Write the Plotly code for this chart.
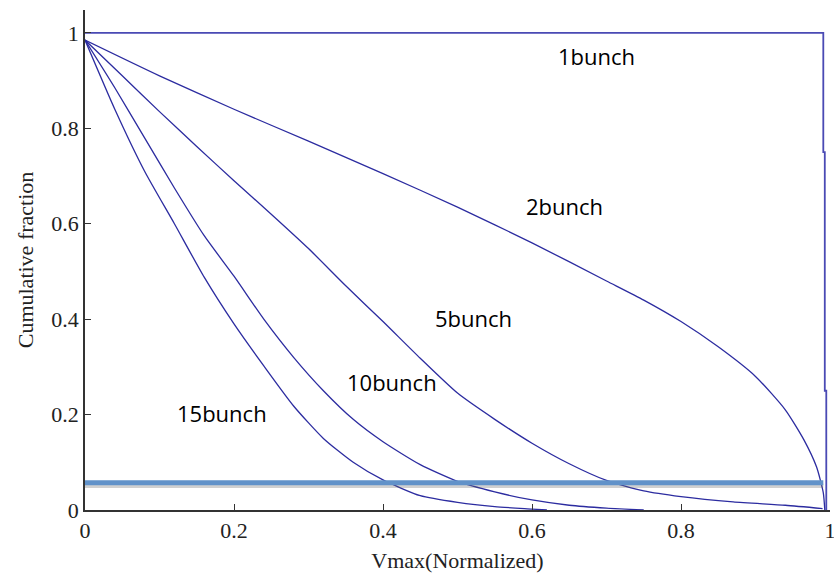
import plotly.graph_objects as go

# ---- data ----
x_1 = [0.0, 0.991, 0.991, 0.993, 0.993, 0.995, 0.995]
y_1 = [1.0, 1.0, 0.75, 0.75, 0.25, 0.25, 0.0]

x_2 = [0.0, 0.1, 0.2, 0.3, 0.4, 0.5, 0.6, 0.7, 0.75, 0.8, 0.85, 0.9, 0.94, 0.965, 0.982, 0.991, 0.993]
y_2 = [0.985, 0.91, 0.84, 0.773, 0.705, 0.635, 0.56, 0.48, 0.44, 0.395, 0.342, 0.28, 0.21, 0.147, 0.09, 0.036, 0.0]

x_5 = [0.0, 0.05, 0.1, 0.15, 0.2, 0.25, 0.3, 0.35, 0.4, 0.45, 0.5, 0.55, 0.6, 0.65, 0.7, 0.75, 0.8, 0.87, 0.94, 0.99]
y_5 = [0.985, 0.91, 0.835, 0.762, 0.69, 0.62, 0.548, 0.47, 0.395, 0.318, 0.245, 0.19, 0.14, 0.097, 0.062, 0.04, 0.028, 0.017, 0.01, 0.003]

x_10 = [0.0, 0.04, 0.08, 0.12, 0.16, 0.2, 0.24, 0.28, 0.32, 0.36, 0.4, 0.45, 0.5, 0.55, 0.6, 0.65, 0.7, 0.75]
y_10 = [0.985, 0.885, 0.78, 0.675, 0.575, 0.49, 0.40, 0.32, 0.25, 0.19, 0.143, 0.095, 0.06, 0.038, 0.021, 0.01, 0.004, 0.0]

x_15 = [0.0, 0.04, 0.08, 0.12, 0.16, 0.2, 0.24, 0.28, 0.32, 0.36, 0.4, 0.45, 0.5, 0.55, 0.6, 0.62]
y_15 = [0.985, 0.84, 0.71, 0.60, 0.488, 0.39, 0.302, 0.218, 0.15, 0.10, 0.063, 0.03, 0.016, 0.007, 0.002, 0.0]

threshold_y = 0.057
threshold_x = [0.0, 0.991]

label_text = ["1bunch", "2bunch", "5bunch", "10bunch", "15bunch"]
label_x = [0.686, 0.643, 0.522, 0.412, 0.184]
label_y = [0.952, 0.637, 0.403, 0.268, 0.203]

x_ticks = [0, 0.2, 0.4, 0.6, 0.8, 1]
x_tick_text = ["0", "0.2", "0.4", "0.6", "0.8", "1"]
y_ticks = [0, 0.2, 0.4, 0.6, 0.8, 1]
y_tick_text = ["0", "0.2", "0.4", "0.6", "0.8", "1"]

# ---- figure ----
fig = go.Figure()
curve_color = "#2c2ca0"
fig.add_trace(go.Scatter(x=x_1, y=y_1, mode="lines",
                         line=dict(color="#4a4ab4", width=1.8), hoverinfo="skip"))
for xs, ys in [(x_2, y_2), (x_5, y_5), (x_10, y_10), (x_15, y_15)]:
    fig.add_trace(go.Scatter(x=xs, y=ys, mode="lines",
                             line=dict(color=curve_color, width=1.3, shape="spline", smoothing=0.6),
                             hoverinfo="skip"))

# shadow + threshold line
fig.add_trace(go.Scatter(x=threshold_x, y=[threshold_y - 0.006] * 2, mode="lines",
                         line=dict(color="rgba(100,100,100,0.3)", width=4.5), hoverinfo="skip"))
fig.add_trace(go.Scatter(x=threshold_x, y=[threshold_y] * 2, mode="lines",
                         line=dict(color="#6192c9", width=5), hoverinfo="skip"))

for t, lx, ly in zip(label_text, label_x, label_y):
    fig.add_annotation(x=lx, y=ly, text=t, showarrow=False, xanchor="center", yanchor="middle",
                       font=dict(family="Open Sans, Noto Sans, sans-serif", size=22, color="black"))

axis_font = dict(family="Liberation Serif, Times New Roman, serif", size=22, color="#222")
fig.update_layout(
    width=834, height=573,
    margin=dict(l=85, r=4, t=10, b=63),
    paper_bgcolor="white", plot_bgcolor="white",
    showlegend=False,
    xaxis=dict(range=[0, 1], tickvals=x_ticks, ticktext=x_tick_text, automargin=False,
               ticklabeloverflow="allow",
               showgrid=False, zeroline=False, showline=True, linecolor="#333", linewidth=1.5,
               ticks="inside", ticklen=6, tickcolor="#333", tickfont=axis_font,
               title=dict(text="Vmax(Normalized)", font=axis_font, standoff=12)),
    yaxis=dict(range=[0, 1.048], tickvals=y_ticks, ticktext=y_tick_text, automargin=False,
               showgrid=False, zeroline=False, showline=True, linecolor="#333", linewidth=1.5,
               ticks="inside", ticklen=6, tickcolor="#333", tickfont=axis_font,
               title=dict(text="Cumulative fraction", font=axis_font, standoff=12)),
)

fig.write_html("out.html", config={"displayModeBar": False},
               post_script="document.body.style.margin='0';document.body.style.overflow='hidden';")
